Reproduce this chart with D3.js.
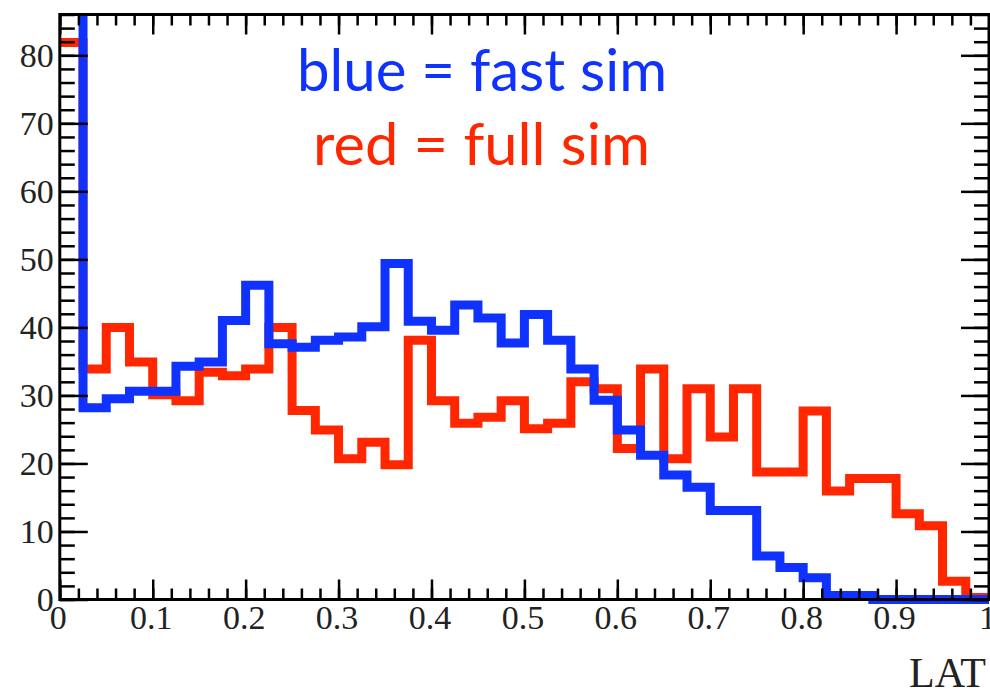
<!DOCTYPE html>
<html>
<head>
<meta charset="utf-8">
<script src="https://cdn.jsdelivr.net/npm/d3@7"></script>
<style>
  body { margin: 0; background: #fff; }
</style>
</head>
<body>
<div id="chart"></div>
<script>
// 40 bins over LAT in [0, 1]
var binEdges = d3.range(41).map(i => i / 40);

// blue = fast sim (first bin runs off the top of the frame)
var fastSim = [120, 28.2, 29.5, 30.6, 30.6, 34.3, 34.9, 41.0, 46.2, 37.6,
  37.1, 38.1, 38.6, 40.1, 49.4, 40.9, 39.6, 43.3, 41.4, 37.7,
  41.9, 38.1, 33.9, 29.3, 24.9, 21.2, 18.3, 16.5, 13.1, 13.1,
  6.4, 4.7, 3.2, 0.6, 0.6, 0, 0, 0, 0, 0];

// red = full sim
var fullSim = [81.9, 33.9, 40.0, 34.9, 30.1, 29.2, 33.4, 32.9, 33.9, 40.0,
  27.8, 24.9, 20.7, 23.1, 19.8, 38.1, 29.2, 25.9, 26.8, 29.2,
  25.1, 25.9, 32.0, 31.0, 22.2, 33.9, 20.7, 31.0, 23.9, 31.0,
  18.75, 18.75, 27.7, 15.95, 17.8, 17.8, 12.6, 10.85, 2.7, 0.3];

var xTicks = [0, 0.1, 0.2, 0.3, 0.4, 0.5, 0.6, 0.7, 0.8, 0.9, 1];
var xTickLabels = ["0", "0.1", "0.2", "0.3", "0.4", "0.5", "0.6", "0.7", "0.8", "0.9", "1"];
var yTicks = [0, 10, 20, 30, 40, 50, 60, 70, 80];
var yTickLabels = ["0", "10", "20", "30", "40", "50", "60", "70", "80"];

var width = 990, height = 691;
var frame = {left: 59.8, right: 989, top: 14.5, bottom: 599.5};

var svg = d3.select("#chart")
  .append("svg")
  .attr("width", width)
  .attr("height", height);

var x = d3.scaleLinear().domain([0, 1]).range([frame.left, frame.right]);
var y = d3.scaleLinear().domain([0, 86]).range([frame.bottom, frame.top]);

svg.append("defs").append("clipPath")
  .attr("id", "clip")
  .append("rect")
  .attr("x", frame.left)
  .attr("y", frame.top)
  .attr("width", frame.right - frame.left)
  .attr("height", height - frame.top);

// step outline of a histogram
function histPath(values) {
  var pts = [];
  values.forEach(function (v, i) {
    pts.push([x(binEdges[i]), y(v)]);
    pts.push([x(binEdges[i + 1]), y(v)]);
  });
  return d3.line()(pts);
}

svg.append("path")
  .attr("clip-path", "url(#clip)")
  .attr("d", histPath(fullSim))
  .attr("fill", "none")
  .attr("stroke", "#ff2600")
  .attr("stroke-width", 9)
  .attr("stroke-linejoin", "miter");

svg.append("path")
  .attr("clip-path", "url(#clip)")
  .attr("d", histPath(fastSim))
  .attr("fill", "none")
  .attr("stroke", "#0f32ff")
  .attr("stroke-width", 9)
  .attr("stroke-linejoin", "miter");

// axes: ticks point inward on all four sides
var xMinor = d3.range(0, 1.0001, 0.02);
var yMinor = d3.range(0, 86.01, 2);

function styleAxis(g) {
  g.select(".domain").remove();
  g.selectAll(".tick line").attr("stroke", "#000").attr("stroke-width", 2.5);
  g.selectAll("text")
    .attr("fill", "#222")
    .style("font-family", "'Liberation Serif', 'Times New Roman', serif")
    .style("font-size", "34px");
}

svg.append("g")
  .attr("transform", `translate(0,${frame.bottom})`)
  .call(d3.axisBottom(x).tickValues(xMinor).tickSize(-11).tickFormat(""))
  .call(styleAxis);

svg.append("g")
  .attr("transform", `translate(0,${frame.bottom})`)
  .call(d3.axisBottom(x).tickValues(xTicks).tickSize(-20).tickPadding(5)
    .tickFormat((d, i) => xTickLabels[i]))
  .call(styleAxis)
  .selectAll("text").attr("dx", -2);

svg.append("g")
  .attr("transform", `translate(0,${frame.top})`)
  .call(d3.axisTop(x).tickValues(xMinor).tickSize(-11).tickFormat(""))
  .call(styleAxis);

svg.append("g")
  .attr("transform", `translate(0,${frame.top})`)
  .call(d3.axisTop(x).tickValues(xTicks).tickSize(-20).tickFormat(""))
  .call(styleAxis);

svg.append("g")
  .attr("transform", `translate(${frame.left},0)`)
  .call(d3.axisLeft(y).tickValues(yMinor).tickSize(-15).tickFormat(""))
  .call(styleAxis);

svg.append("g")
  .attr("transform", `translate(${frame.left},0)`)
  .call(d3.axisLeft(y).tickValues(yTicks).tickSize(-28).tickPadding(6)
    .tickFormat((d, i) => yTickLabels[i]))
  .call(styleAxis);

svg.append("g")
  .attr("transform", `translate(${frame.right},0)`)
  .call(d3.axisRight(y).tickValues(yMinor).tickSize(-15).tickFormat(""))
  .call(styleAxis);

svg.append("g")
  .attr("transform", `translate(${frame.right},0)`)
  .call(d3.axisRight(y).tickValues(yTicks).tickSize(-28).tickFormat(""))
  .call(styleAxis);

// frame
svg.append("rect")
  .attr("x", frame.left)
  .attr("y", frame.top)
  .attr("width", frame.right - frame.left)
  .attr("height", frame.bottom - frame.top)
  .attr("fill", "none")
  .attr("stroke", "#000")
  .attr("stroke-width", 3);

// axis title
svg.append("text")
  .attr("x", 986)
  .attr("y", 687)
  .attr("text-anchor", "end")
  .attr("fill", "#222")
  .style("font-family", "'Liberation Serif', 'Times New Roman', serif")
  .style("font-size", "42px")
  .text("LAT");

// legend text
svg.append("text")
  .attr("x", 297)
  .attr("y", 90.7)
  .attr("fill", "#0f32ff")
  .attr("textLength", 370)
  .attr("lengthAdjust", "spacingAndGlyphs")
  .style("font-family", "Lato, 'Open Sans', sans-serif")
  .style("font-size", "58px")
  .text("blue = fast sim");

svg.append("text")
  .attr("x", 313)
  .attr("y", 165)
  .attr("fill", "#ff2600")
  .attr("textLength", 337)
  .attr("lengthAdjust", "spacingAndGlyphs")
  .style("font-family", "Lato, 'Open Sans', sans-serif")
  .style("font-size", "58px")
  .text("red = full sim");
</script>
</body>
</html>
